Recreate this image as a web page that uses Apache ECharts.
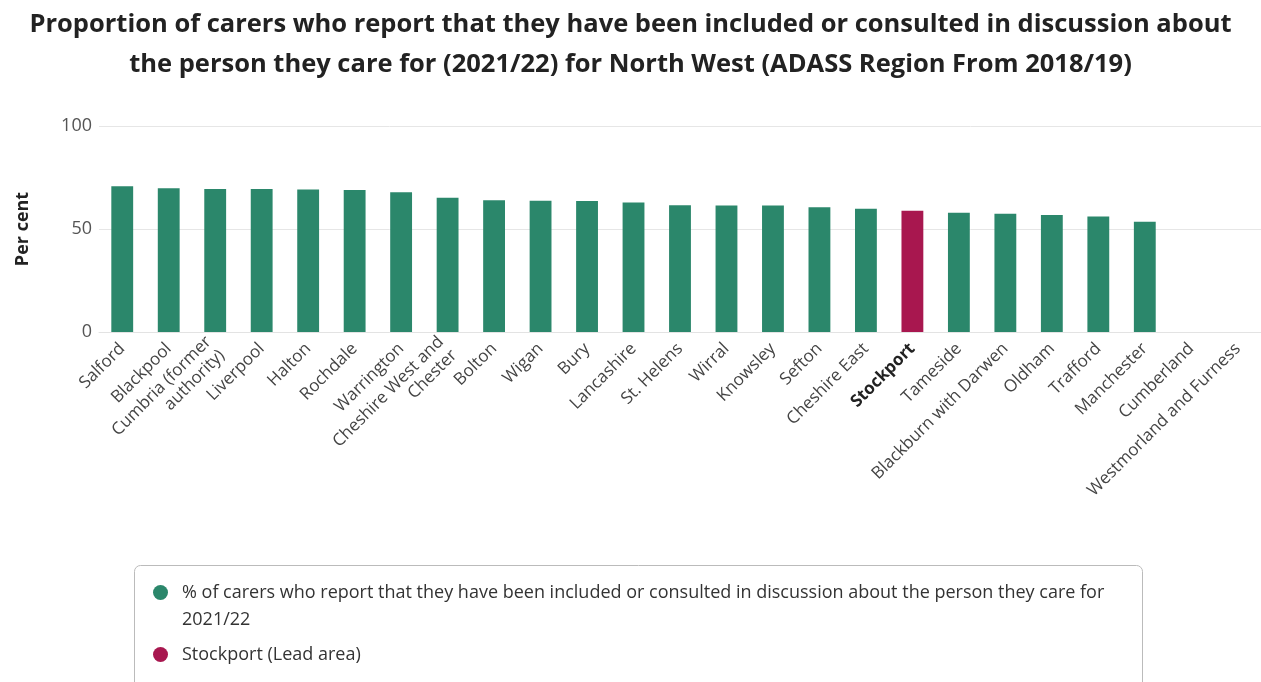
<!DOCTYPE html>
<html><head><meta charset="utf-8">
<script src="https://cdn.jsdelivr.net/npm/echarts@6/dist/echarts.min.js"></script>
<style>html,body{margin:0;padding:0;background:#fff}#c{width:1261px;height:682px}</style>
</head><body><div id="c"></div>
<script>
const categories = ["Salford","Blackpool","Cumbria (former\nauthority)","Liverpool","Halton","Rochdale","Warrington","Cheshire West and\nChester","Bolton","Wigan","Bury","Lancashire","St. Helens","Wirral","Knowsley","Sefton","Cheshire East","Stockport","Tameside","Blackburn with Darwen","Oldham","Trafford","Manchester","Cumberland","Westmorland and Furness"];
const values = [70.8,69.8,69.4,69.4,69.2,68.9,67.8,65.2,64.0,63.7,63.6,62.9,61.5,61.4,61.4,60.6,59.8,58.9,57.9,57.4,56.8,56.1,53.5,null,null];
const leadArea = "Stockport";
const yTicks = [0,50,100];
const seriesName = "% of carers who report that they have been included or consulted in discussion about the person they care for\n2021/22";
const leadName = "Stockport (Lead area)";
const titleText = "Proportion of carers who report that they have been included or consulted in discussion about\nthe person they care for (2021/22) for North West (ADASS Region From 2018/19)";

const green = "#2b876b", crimson = "#a8174f";
const mainData = categories.map((c,i)=> c===leadArea ? null : values[i]);
const leadData = categories.map((c,i)=> c===leadArea ? values[i] : null);

const chart = echarts.init(document.getElementById('c'));
chart.setOption({
  animation:false,
  textStyle:{fontFamily:"Open Sans"},
  title:{text:titleText,left:'center',top:0,textStyle:{fontFamily:"Open Sans",fontWeight:'bold',fontSize:25.5,color:'#222',lineHeight:40}},
  grid:{left:99,right:-7,top:126,height:206},
  xAxis:{type:'category',data:categories,
    axisLine:{show:true,lineStyle:{color:'#e3e3e3'}},axisTick:{show:false},
    axisLabel:{interval:0,rotate:45,fontSize:17,color:'#444',margin:14,fontFamily:"Open Sans",lineHeight:19,
      formatter:v=> v===leadArea ? '{b|'+v+'}' : v,
      rich:{b:{fontWeight:'bold',fontSize:17,color:'#222',fontFamily:"Open Sans",lineHeight:19}}}},
  yAxis:{type:'value',min:yTicks[0],max:yTicks[yTicks.length-1],interval:50,
    name:'Per cent',nameLocation:'middle',nameGap:67,nameRotate:90,
    nameTextStyle:{fontSize:18,fontWeight:'bold',color:'#222',fontFamily:"Open Sans"},
    axisLabel:{fontSize:18,color:'#555',margin:7,fontFamily:"Open Sans"},
    splitLine:{lineStyle:{color:'#e6e6e6'}}},
  graphic:[{type:'rect',left:132,top:563,shape:{width:1008,height:125,r:6},
    style:{fill:'none',stroke:'#bbb',lineWidth:1},silent:true}],
  legend:{orient:'vertical',left:153,top:552,itemWidth:15,itemHeight:15,icon:'circle',itemGap:8,
    padding:0,height:130,
    formatter:n=> n===seriesName ? '\n'+n : n,
    textStyle:{fontSize:18,color:'#333',lineHeight:27,fontFamily:"Open Sans",padding:[0,0,0,9]},
    data:[{name:seriesName},{name:leadName}]},
  series:[
    {name:seriesName,type:'bar',data:mainData,barWidth:'47%',barGap:'-100%',itemStyle:{color:green}},
    {name:leadName,type:'bar',data:leadData,barWidth:'47%',itemStyle:{color:crimson}}
  ]
});
</script></body></html>
